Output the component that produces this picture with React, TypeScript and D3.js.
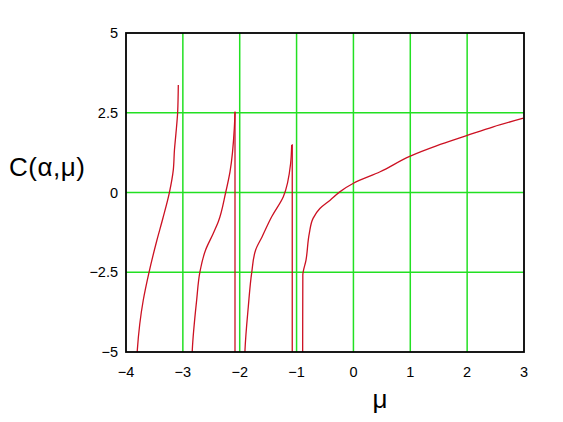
import React from "react";
import * as d3 from "d3";

const xTicks = [-4, -3, -2, -1, 0, 1, 2, 3];
const yTicks = [-5, -2.5, 0, 2.5, 5];

const branch1: [number, number][] = [
  [-3.81, -5.2], [-3.801, -4.94], [-3.696, -3.37], [-3.596, -2.51], [-3.46, -1.52],
  [-3.35, -0.8], [-3.238, -0.01], [-3.168, 0.71], [-3.148, 1.33], [-3.121, 1.86],
  [-3.091, 2.53], [-3.08, 3.37],
];
const branch2: [number, number][] = [
  [-2.84, -5.2], [-2.834, -4.94], [-2.757, -3.37], [-2.699, -2.48], [-2.6, -1.8],
  [-2.47, -1.3], [-2.377, -0.92], [-2.247, 0.0], [-2.171, 0.65], [-2.095, 2.01],
  [-2.083, 2.53],
];
const branch3: [number, number][] = [
  [-1.912, -5.2], [-1.907, -4.94], [-1.849, -3.58], [-1.789, -2.51], [-1.72, -1.8],
  [-1.61, -1.4], [-1.438, -0.76], [-1.233, -0.13], [-1.104, 0.92], [-1.086, 1.49],
];
const branch4: [number, number][] = [
  [-0.893, -5.2], [-0.89, -2.6], [-0.834, -2.12], [-0.776, -1.28], [-0.71, -0.81],
  [-0.59, -0.5], [-0.41, -0.24], [-0.24, 0.02], [0.0, 0.29], [0.47, 0.65],
  [1.0, 1.14], [1.46, 1.46], [1.99, 1.78], [2.46, 2.06], [2.99, 2.33],
];
const connectors: [number, number][][] = [
  [[-2.083, 2.53], [-2.083, -5.2]],
  [[-1.086, 1.49], [-1.076, 1.49], [-1.076, -5.2]],
];
const branches = [branch1, branch2, branch3, branch4];

const tickText = (v: number) => (v < 0 ? "\u2212" + String(-v) : String(v));

export default function App() {
  const W = 563, H = 422;
  const left = 126, right = 524, top = 33, bottom = 352;
  const x = d3.scaleLinear().domain([-4, 3]).range([left, right]);
  const y = d3.scaleLinear().domain([-5, 5]).range([bottom, top]);
  const smooth = d3.line<[number, number]>().x((d) => x(d[0])).y((d) => y(d[1])).curve(d3.curveMonotoneY);
  const straight = d3.line<[number, number]>().x((d) => x(d[0])).y((d) => y(d[1]));
  const font = "'Liberation Sans', Arial, sans-serif";
  const red = "#cc1122";
  return (
    <svg width={W} height={H} style={{ position: "absolute", left: 0, top: 0, background: "#fff" }}>
      <defs>
        <clipPath id="plot">
          <rect x={left} y={top} width={right - left} height={bottom - top} />
        </clipPath>
      </defs>
      <rect x={0} y={0} width={W} height={H} fill="#fff" />
      {xTicks.slice(1, -1).map((t) => (
        <line key={"gx" + t} x1={x(t)} x2={x(t)} y1={top} y2={bottom} stroke="#22e022" strokeWidth={1.5} />
      ))}
      {yTicks.slice(1, -1).map((t) => (
        <line key={"gy" + t} x1={left} x2={right} y1={y(t)} y2={y(t)} stroke="#22e022" strokeWidth={1.5} />
      ))}
      <g clipPath="url(#plot)">
        {branches.map((b, i) => (
          <path key={i} d={smooth(b) || ""} fill="none" stroke={red} strokeWidth={1.3} />
        ))}
        {connectors.map((c, i) => (
          <path key={"c" + i} d={straight(c) || ""} fill="none" stroke={red} strokeWidth={1.3} />
        ))}
      </g>
      <rect x={left} y={top} width={right - left} height={bottom - top} fill="none" stroke="#000" strokeWidth={1.8} />
      {xTicks.map((t) => (
        <text key={"tx" + t} x={x(t)} y={377} textAnchor="middle" fontFamily={font} fontSize={14.5} fill="#000">
          {tickText(t)}
        </text>
      ))}
      {yTicks.map((t) => (
        <text key={"ty" + t} x={118} y={y(t) + 5} textAnchor="end" fontFamily={font} fontSize={14.5} fill="#000">
          {tickText(t)}
        </text>
      ))}
      <text x={9} y={176} fontFamily={font} fontSize={26} fill="#000" textLength={76}>C(α,μ)</text>
      <text x={380} y={408} textAnchor="middle" fontFamily={font} fontSize={26} fill="#000">μ</text>
    </svg>
  );
}
